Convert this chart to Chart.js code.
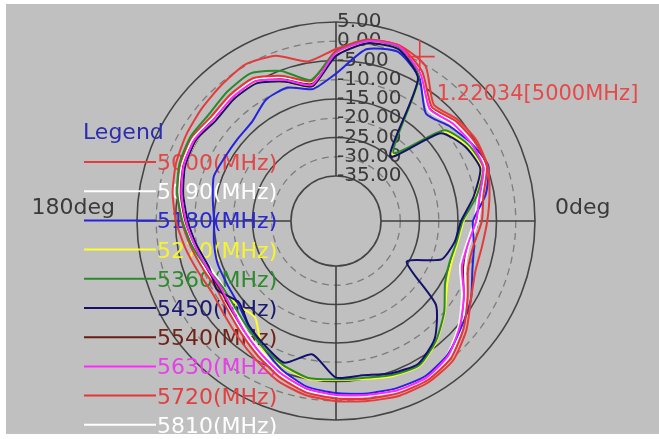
<!DOCTYPE html>
<html><head><meta charset="utf-8">
<script src="https://cdn.jsdelivr.net/npm/chart.js@4.4.1/dist/chart.umd.min.js"></script>
<style>html,body{margin:0;padding:0;background:#ffffff;}canvas{display:block;}</style>
</head><body>
<canvas id="c" width="659" height="439"></canvas>
<script>
// ---- data (angles clockwise on screen from 0deg, values in dB) ----
const angles = [0,10,20,30,40,50,60,70,80,90,100,110,120,130,140,150,160,170,180,190,200,210,220,230,240,250,260,270,280,290,300,310,320,330,340,350];
const radialTicks = [-35,-30,-25,-20,-15,-10,-5,0,5];
const seriesNames = ['5000(MHz)','5090(MHz)','5180(MHz)','5270(MHz)','5360(MHz)','5450(MHz)','5540(MHz)','5630(MHz)','5720(MHz)','5810(MHz)'];
const s5000 = [-7.4,-8.2,-8.2,-6.2,-2.5,0.6,1.6,1.6,0.8,0.1,-0.8,-2.5,-5.1,-7.2,-8.8,-9.5,-8.5,-6.9,-5.1,-3.6,-2.5,-1.8,-1.2,-0.5,0.3,-1.0,-4.6,-2.0,1.2,1.8,-0.2,-7.2,-5.6,-4.6,-4.8,-6.2];
const s5090 = [-9.8,-11.5,-11.0,-7.8,-4.0,-0.8,0.6,0.3,-0.5,-1.2,-2.0,-4.2,-6.8,-9.0,-10.5,-11.0,-10.4,-9.0,-7.0,-5.2,-4.0,-3.8,-4.9,-4.5,-4.3,-7.0,-10.0,-2.6,1.1,1.7,-2.2,-8.2,-6.8,-5.8,-5.5,-8.3];
const s5180 = [-11.1,-10.3,-9.0,-6.2,-4.1,-1.5,-0.2,-0.5,-1.2,-2.0,-3.0,-5.6,-8.8,-11.3,-13.4,-14.0,-14.0,-14.5,-15.0,-14.2,-12.9,-13.4,-13.4,-12.9,-10.3,-9.8,-11.9,-8.4,-1.4,0.1,-3.5,-10.3,-8.3,-6.2,-4.6,-7.2];
const s5270 = [-13.5,-14.6,-14.8,-13.4,-9.8,-6.0,-3.2,-3.8,-5.0,-5.4,-5.0,-6.5,-8.4,-14.0,-13.0,-12.0,-10.8,-9.5,-8.0,-6.4,-5.0,-4.8,-5.9,-5.4,-5.2,-8.3,-11.4,-3.6,0.4,1.0,-3.5,-24.0,-10.5,-7.4,-6.4,-10.0];
const s5360 = [-13.8,-14.9,-15.3,-14.0,-10.0,-6.2,-3.4,-4.1,-5.3,-5.6,-5.3,-6.8,-8.8,-10.8,-12.2,-12.6,-11.0,-8.8,-6.8,-4.8,-3.4,-3.0,-3.6,-2.8,-2.4,-5.2,-9.5,-2.8,0.9,1.3,-3.7,-23.5,-10.0,-7.0,-6.0,-9.6];
const s5450 = [-14.2,-15.4,-17.5,-25.5,-12.8,-6.8,-3.9,-4.6,-6.0,-6.0,-11.5,-7.5,-9.5,-11.4,-13.8,-11.0,-11.6,-10.0,-8.2,-6.4,-5.0,-4.7,-6.0,-5.4,-5.4,-8.2,-11.2,-3.8,0.2,0.8,-4.1,-24.8,-11.2,-8.0,-6.8,-10.4];
const s5540 = [-10.0,-11.6,-11.4,-8.0,-4.4,-1.0,0.4,0.2,-0.6,-1.4,-2.3,-4.4,-7.0,-9.3,-11.0,-11.8,-10.8,-9.2,-7.4,-5.6,-4.4,-4.0,-5.0,-4.6,-4.6,-7.4,-10.5,-2.8,1.0,1.6,-2.5,-8.6,-7.0,-6.0,-5.7,-8.5];
const s5630 = [-10.3,-11.9,-11.9,-8.3,-4.6,-1.2,0.3,0.1,-0.8,-1.5,-2.5,-4.6,-7.2,-9.5,-11.3,-12.1,-11.1,-9.5,-7.7,-5.9,-4.6,-4.3,-5.4,-4.8,-4.8,-7.7,-10.8,-3.0,0.8,1.5,-2.7,-8.8,-7.2,-6.2,-5.9,-8.8];
const s5720 = [-8.8,-10.4,-10.2,-7.2,-3.4,-0.2,1.0,0.9,0.2,-0.6,-1.5,-3.6,-6.2,-8.5,-10.2,-11.0,-10.0,-8.4,-6.6,-4.8,-3.6,-3.3,-4.4,-3.9,-3.8,-6.6,-9.8,-2.4,1.1,1.7,-1.9,-8.0,-6.2,-5.2,-5.0,-7.8];
const s5810 = [-10.8,-12.3,-12.4,-8.9,-5.0,-1.6,0.0,-0.2,-1.2,-1.9,-3.0,-5.2,-7.8,-10.0,-12.0,-12.8,-11.8,-10.0,-8.2,-6.4,-5.0,-4.8,-5.8,-5.3,-5.2,-8.2,-11.3,-3.4,0.5,1.2,-3.1,-9.2,-7.6,-6.6,-6.3,-9.2];
const markerAngle = 297;
const markerValue = 1.22034;
const markerText = '1.22034[5000MHz]';
const axisLeftLabel = '180deg';
const axisRightLabel = '0deg';
const legendTitle = 'Legend';

// ---- styles ----
const seriesValues = [s5000,s5090,s5180,s5270,s5360,s5450,s5540,s5630,s5720,s5810];
const lineColors = ['#e43c3c','#ffffff','#2424dc','#ffff28','#2a8a2a','#12126c','#6c1c12','#ff28ff','#e83434','#ffffff'];
const textColors = ['#e24848','#ffffff','#2a2ad0','#f4f430','#2e8a2e','#1a1a70','#6e2418','#e640e6','#e04040','#ffffff'];
const drawOrder = [3,5,4,6,2,1,5,0,2,6];
const FONT = "'DejaVu Sans', sans-serif";
const RMIN = -46.69, RMAX = 5;

const deco = {
  id: 'deco',
  beforeDraw(chart) {
    const ctx = chart.ctx;
    ctx.save();
    ctx.fillStyle = '#ffffff';
    ctx.fillRect(0, 0, chart.width, chart.height);
    ctx.fillStyle = '#c0c0c0';
    ctx.fillRect(6, 4, chart.width - 6, chart.height - 9);
    ctx.restore();
  },
  beforeDatasetsDraw(chart) {
    const ctx = chart.ctx;
    const sc = chart.scales.r;
    const n = angles.length;
    const rIn = sc.getDistanceFromCenterForValue(radialTicks[0]);
    const rOut = sc.getDistanceFromCenterForValue(radialTicks[radialTicks.length - 1]);
    ctx.save();
    // axes
    ctx.strokeStyle = '#3e3e3e';
    ctx.lineWidth = 1.6;
    [0, n / 4, n / 2, 3 * n / 4].forEach(i => {
      const a = sc.getPointPosition(i, rIn);
      const b = sc.getPointPosition(i, rOut);
      ctx.beginPath(); ctx.moveTo(a.x, a.y); ctx.lineTo(b.x, b.y); ctx.stroke();
    });
    // radial tick labels
    ctx.fillStyle = '#3a3a3a';
    ctx.font = '20px ' + FONT;
    ctx.textAlign = 'left';
    ctx.textBaseline = 'middle';
    radialTicks.forEach(v => {
      const p = sc.getPointPosition(3 * n / 4, sc.getDistanceFromCenterForValue(v));
      ctx.fillText(v.toFixed(2), p.x + 1, p.y);
    });
    // direction labels
    ctx.font = '22px ' + FONT;
    ctx.fillStyle = '#3a3a3a';
    ctx.textBaseline = 'alphabetic';
    const pr = sc.getPointPosition(0, rOut + 20);
    ctx.textAlign = 'left';
    ctx.fillText(axisRightLabel, pr.x, pr.y - 7);
    const pl = sc.getPointPosition(n / 2, rOut + 22);
    ctx.textAlign = 'right';
    ctx.fillText(axisLeftLabel, pl.x, pl.y - 7);
    // legend
    ctx.textAlign = 'left';
    ctx.fillStyle = '#2c2cb0';
    ctx.fillText(legendTitle, 83, 139);
    chart.data.datasets.forEach((ds, i) => {
      const y = 162 + i * 29.2;
      ctx.strokeStyle = lineColors[i];
      ctx.lineWidth = 2;
      ctx.beginPath(); ctx.moveTo(84, y); ctx.lineTo(156, y); ctx.stroke();
      ctx.fillStyle = textColors[i];
      ctx.fillText(ds.label, 157, y + 8);
    });
    ctx.restore();
  },
  afterDatasetsDraw(chart) {
    const ctx = chart.ctx;
    const sc = chart.scales.r;
    const p = sc.getPointPositionForValue(markerAngle / 10, markerValue);
    ctx.save();
    ctx.strokeStyle = '#e83a3a';
    ctx.lineWidth = 1.6;
    ctx.beginPath();
    ctx.moveTo(p.x, p.y - 17); ctx.lineTo(p.x, p.y + 14);
    ctx.moveTo(p.x - 12, p.y); ctx.lineTo(p.x + 15, p.y);
    ctx.stroke();
    ctx.fillStyle = '#e44a4a';
    ctx.font = '21px ' + FONT;
    ctx.textAlign = 'left';
    ctx.textBaseline = 'alphabetic';
    ctx.fillText(markerText, p.x + 17, p.y + 43);
    ctx.restore();
  }
};

new Chart(document.getElementById('c'), {
  type: 'radar',
  data: {
    labels: angles.map(a => a + 'deg'),
    datasets: seriesValues.map((vals, i) => ({
      label: seriesNames[i],
      data: vals,
      borderColor: lineColors[i],
      borderWidth: 2,
      backgroundColor: 'transparent',
      fill: false,
      pointRadius: 0,
      pointHoverRadius: 0,
      tension: 0.2,
      order: drawOrder[i]
    }))
  },
  options: {
    responsive: false,
    animation: false,
    devicePixelRatio: 1,
    layout: { padding: { left: 137, right: 124, top: 22, bottom: 19 } },
    plugins: { legend: { display: false }, tooltip: { enabled: false } },
    scales: {
      r: {
        min: RMIN,
        max: RMAX,
        startAngle: 90,
        afterBuildTicks: (scale) => { scale.ticks = radialTicks.map(v => ({ value: v })); },
        ticks: { display: false },
        pointLabels: { display: false },
        angleLines: { display: false },
        grid: {
          circular: true,
          color: (ctx) => (ctx.tick && (ctx.tick.value / 5) % 2 === 0) ? '#7c7c7c' : '#444444',
          lineWidth: (ctx) => (ctx.tick && (ctx.tick.value / 5) % 2 === 0) ? 1.3 : 1.6
        },
        border: {
          dash: (ctx) => (ctx.tick && (ctx.tick.value / 5) % 2 === 0) ? [7, 5] : []
        }
      }
    }
  },
  plugins: [deco]
});
</script>
</body></html>
